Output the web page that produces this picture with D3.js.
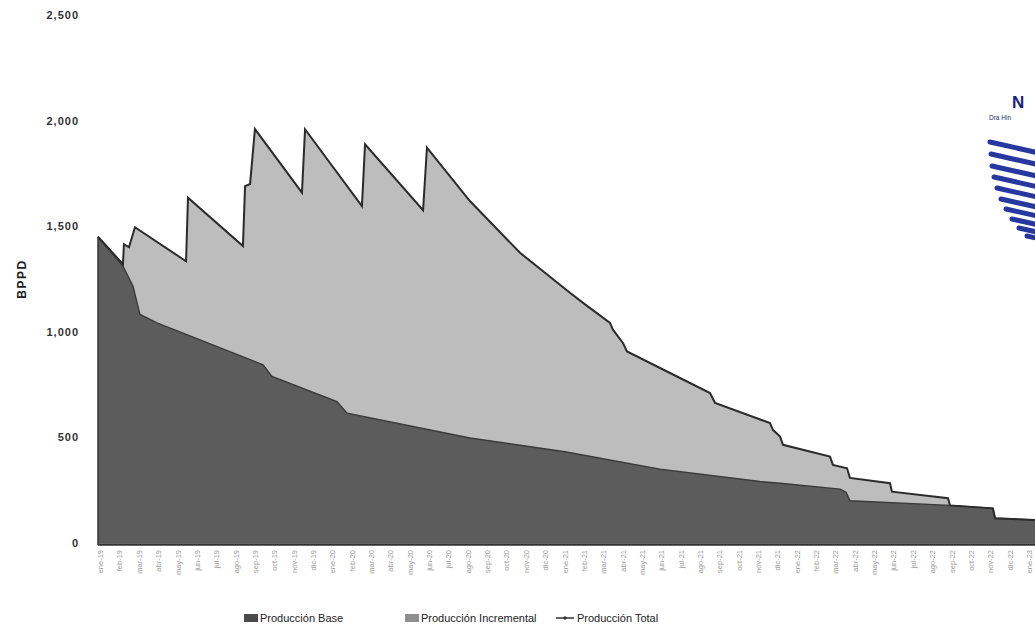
<!DOCTYPE html>
<html>
<head>
<meta charset="utf-8">
<script src="https://cdn.jsdelivr.net/npm/d3@7"></script>
<style>
  html, body { margin: 0; padding: 0; background: #ffffff; }
  svg { display: block; }
  text { font-family: "Liberation Sans", Arial, sans-serif; }
</style>
</head>
<body>
<svg id="chart" width="1035" height="632"></svg>
<script>
// ---- Data ----
const monthLabels = [
  "ene-19","feb-19","mar-19","abr-19","may-19","jun-19","jul-19","ago-19","sep-19","oct-19","nov-19","dic-19",
  "ene-20","feb-20","mar-20","abr-20","may-20","jun-20","jul-20","ago-20","sep-20","oct-20","nov-20","dic-20",
  "ene-21","feb-21","mar-21","abr-21","may-21","jun-21","jul-21","ago-21","sep-21","oct-21","nov-21","dic-21",
  "ene-22","feb-22","mar-22","abr-22","may-22","jun-22","jul-22","ago-22","sep-22","oct-22","nov-22","dic-22",
  "ene-23"
];
const yTickValues = [0, 500, 1000, 1500, 2000, 2500];

// Producción Total (BPPD) – month position / value
const totalT = [0.00, 1.29, 1.34, 1.60, 1.91, 4.55, 4.65, 7.49, 7.60, 7.86, 8.11, 10.54, 10.70, 13.64, 13.80,
  16.80, 17.00, 19.22, 21.81, 24.39, 25.17, 26.46, 26.61, 27.13, 27.34, 29.56, 31.63, 31.89, 34.73, 34.88,
  35.25, 35.40, 37.83, 37.98, 38.71, 38.86, 40.93, 41.03, 43.93, 44.03, 46.25, 46.36, 48.48];
const totalV = [1450, 1320, 1415, 1400, 1495, 1334, 1635, 1406, 1690, 1700, 1960, 1659, 1959, 1595, 1888,
  1576, 1872, 1619, 1374, 1185, 1130, 1042, 1010, 947, 907, 805, 710, 663, 568, 536,
  504, 465, 409, 370, 354, 308, 283, 243, 212, 178, 164, 117, 109];

// Producción Base (BPPD)
const baseT = [0.00, 1.29, 1.81, 2.02, 2.17, 3.05, 8.53, 8.99, 12.35, 12.87, 19.22, 24.13, 29.04, 34.21,
  35.25, 38.35, 38.66, 38.86, 44.03, 46.25, 46.36, 48.48];
const baseV = [1450, 1311, 1216, 1137, 1082, 1042, 844, 789, 670, 615, 497, 432, 350, 291,
  283, 255, 240, 200, 178, 164, 117, 109];

const legendNames = ["Producción Base", "Producción Incremental", "Producción Total"];

// ---- Scales ----
const svg = d3.select("#chart");
const x = d3.scaleLinear().domain([0, 48]).range([98, 98 + 48 * 19.35]);
const y = d3.scaleLinear().domain([0, 2500]).range([543, 15]);

const totalPts = totalT.map((t, i) => ({ t, v: totalV[i] }));
const basePts = baseT.map((t, i) => ({ t, v: baseV[i] }));

// ---- Watermark logo (partially cut at right edge) ----
const logo = svg.append("g");
logo.append("text").attr("x", 1012).attr("y", 108)
  .attr("font-size", 17).attr("font-weight", "bold").attr("fill", "#1b237a").text("N");
logo.append("text").attr("x", 989).attr("y", 120)
  .attr("font-size", 6.5).attr("fill", "#222a66").text("Dra Hin");
const stripeStarts = [[990,142],[991,154],[992,166],[994,177],[997,188],[1001,199],[1006,209],[1012,219],[1019,228],[1027,236]];
stripeStarts.forEach(([sx, sy]) => {
  logo.append("line").attr("x1", sx).attr("y1", sy).attr("x2", sx + 80).attr("y2", sy + 18)
    .attr("stroke", "#2638a0").attr("stroke-width", 5).attr("stroke-linecap", "round");
});

// ---- Areas ----
const areaTotal = d3.area().x(d => x(d.t)).y0(y(0)).y1(d => y(d.v));
const areaBase = d3.area().x(d => x(d.t)).y0(y(0)).y1(d => y(d.v));
const lineTotal = d3.line().x(d => x(d.t)).y(d => y(d.v));
const lineBase = d3.line().x(d => x(d.t)).y(d => y(d.v));

svg.append("path").datum(totalPts).attr("d", areaTotal).attr("fill", "#bdbdbd");
svg.append("path").datum(basePts).attr("d", areaBase).attr("fill", "#5c5c5c");
svg.append("path").datum(basePts).attr("d", lineBase).attr("fill", "none")
  .attr("stroke", "#3a3a3a").attr("stroke-width", 1.4);
svg.append("path").datum(totalPts).attr("d", lineTotal).attr("fill", "none")
  .attr("stroke", "#2b2b2b").attr("stroke-width", 2);
// left edge + baseline
svg.append("line").attr("x1", x(0)).attr("x2", x(0)).attr("y1", y(baseV[0])).attr("y2", y(0) + 2)
  .attr("stroke", "#333").attr("stroke-width", 1.5);
svg.append("line").attr("x1", x(0)).attr("x2", 1035).attr("y1", y(0) + 1.5).attr("y2", y(0) + 1.5)
  .attr("stroke", "#333").attr("stroke-width", 2.5);

// ---- Y axis ----
const yAxis = svg.append("g").attr("transform", "translate(79,0)")
  .call(d3.axisLeft(y).tickValues(yTickValues).tickSize(0).tickPadding(0).tickFormat(d3.format(",")));
yAxis.select(".domain").remove();
yAxis.selectAll("text").attr("font-size", 11).attr("fill", "#333").attr("font-weight", "bold")
  .attr("letter-spacing", 1).style("font-family", "'Liberation Sans', Arial, sans-serif");

svg.append("text").attr("transform", "translate(26,279) rotate(-90)")
  .attr("text-anchor", "middle").attr("font-size", 12).attr("font-weight", "bold").attr("fill", "#222")
  .attr("letter-spacing", 1.5)
  .text("BPPD");

// ---- X axis (monthly labels, rotated) ----
const xAxis = svg.append("g").attr("transform", `translate(0,${y(0) + 4})`)
  .call(d3.axisBottom(x).tickValues(d3.range(monthLabels.length)).tickSize(0).tickPadding(0)
    .tickFormat(i => monthLabels[i]));
xAxis.select(".domain").remove();
xAxis.selectAll("text")
  .attr("transform", "rotate(-90)")
  .attr("text-anchor", "end").attr("dy", "0.35em").attr("x", -3).attr("y", 2)
  .attr("font-size", 7.5).attr("fill", "#9a9a9a")
  .style("font-family", "'Liberation Sans', Arial, sans-serif");

// ---- Legend ----
const lg = svg.append("g").attr("font-size", 11).attr("fill", "#222");
const legendX = [244, 405, 556];
lg.append("rect").attr("x", legendX[0]).attr("y", 614).attr("width", 14).attr("height", 8).attr("fill", "#4a4a4a");
lg.append("text").attr("x", legendX[0] + 16).attr("y", 622).text(legendNames[0]);
lg.append("rect").attr("x", legendX[1]).attr("y", 614).attr("width", 14).attr("height", 8).attr("fill", "#8f8f8f");
lg.append("text").attr("x", legendX[1] + 16).attr("y", 622).text(legendNames[1]);
lg.append("line").attr("x1", legendX[2]).attr("x2", legendX[2] + 18).attr("y1", 618).attr("y2", 618)
  .attr("stroke", "#333").attr("stroke-width", 1.5);
lg.append("circle").attr("cx", legendX[2] + 9).attr("cy", 618).attr("r", 1.8).attr("fill", "#333");
lg.append("text").attr("x", legendX[2] + 21).attr("y", 622).text(legendNames[2]);
</script>
</body>
</html>
